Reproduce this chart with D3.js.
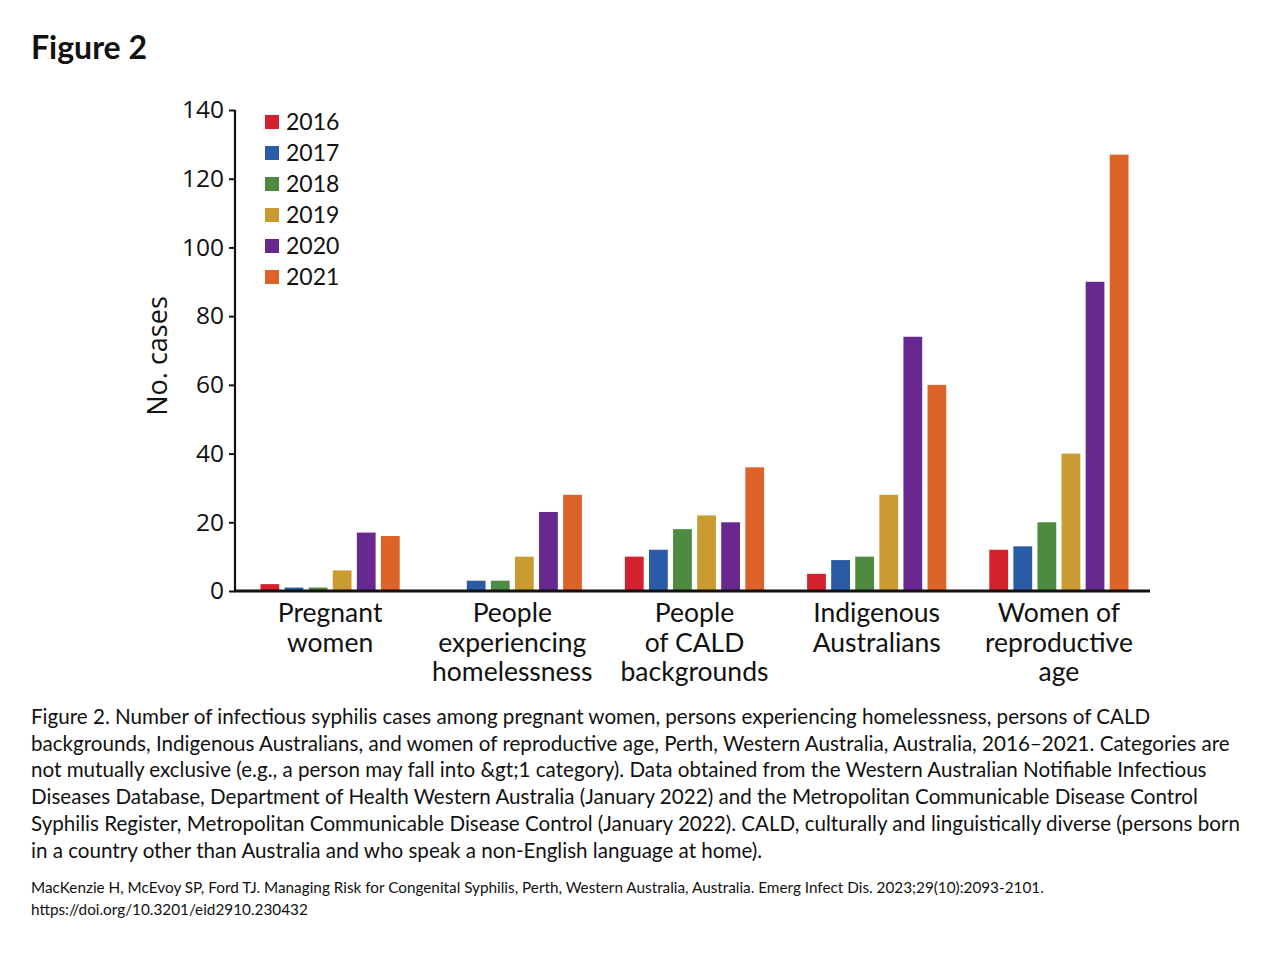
<!DOCTYPE html>
<html><head><meta charset="utf-8">
<script src="https://cdn.jsdelivr.net/npm/d3@7"></script>
<style>body{margin:0;background:#fff}svg{display:block}</style>
</head><body>
<script>
const categories = [
  ["Pregnant","women"],
  ["People","experiencing","homelessness"],
  ["People","of CALD","backgrounds"],
  ["Indigenous","Australians"],
  ["Women of","reproductive","age"]
];
const years = ["2016","2017","2018","2019","2020","2021"];
const colors = ["#d3212d","#2b5aa6","#4e8a3f","#c99b30","#67298f","#de6329"];
const v2016 = [2, 0, 10, 5, 12];
const v2017 = [1, 3, 12, 9, 13];
const v2018 = [1, 3, 18, 10, 20];
const v2019 = [6, 10, 22, 28, 40];
const v2020 = [17, 23, 20, 74, 90];
const v2021 = [16, 28, 36, 60, 127];
const series = [v2016, v2017, v2018, v2019, v2020, v2021];
const yTicks = [0,20,40,60,80,100,120,140];
const captionLines = [
  "Figure 2. Number of infectious syphilis cases among pregnant women, persons experiencing homelessness, persons of CALD",
  "backgrounds, Indigenous Australians, and women of reproductive age, Perth, Western Australia, Australia, 2016\u20132021. Categories are",
  "not mutually exclusive (e.g., a person may fall into &gt;1 category). Data obtained from the Western Australian Notifiable Infectious",
  "Diseases Database, Department of Health Western Australia (January 2022) and the Metropolitan Communicable Disease Control",
  "Syphilis Register, Metropolitan Communicable Disease Control (January 2022). CALD, culturally and linguistically diverse (persons born",
  "in a country other than Australia and who speak a non-English language at home)."
];
const citeLines = [
  "MacKenzie H, McEvoy SP, Ford TJ. Managing Risk for Congenital Syphilis, Perth, Western Australia, Australia. Emerg Infect Dis. 2023;29(10):2093-2101.",
  "https://doi.org/10.3201/eid2910.230432"
];

const svg = d3.select("body").append("svg").attr("width",1280).attr("height",960);
const font = "Lato, 'Open Sans', sans-serif";
const axFont = "'Open Sans', Lato, sans-serif";

svg.append("text").attr("x",31).attr("y",59).attr("font-family",font).attr("font-weight","bold")
  .attr("font-size",32).attr("fill","#111").text("Figure 2");

const axX = 235, axTop = 110, axBottom = 591, axRight = 1150;
const y = d3.scaleLinear().domain([0,140]).range([axBottom, axTop]);
const x0 = d3.scaleBand().domain(d3.range(categories.length)).range([239, 1150]).paddingInner(0).paddingOuter(0);
const x1 = d3.scaleBand().domain(years).range([-69.6, 69.6]).paddingInner(0.22).paddingOuter(0);

const g = svg.append("g");
series.forEach((vals, si) => {
  g.selectAll(null).data(vals).enter().append("rect")
    .attr("x",(d,i)=> x0(i) + x0.bandwidth()/2 + x1(years[si]))
    .attr("width", x1.bandwidth())
    .attr("y", d=> y(d))
    .attr("height", d=> y(0)-y(d))
    .attr("fill", colors[si]);
});

// y axis
const yAxis = d3.axisLeft(y).tickValues(yTicks).tickSize(6).tickPadding(5);
const ya = svg.append("g").attr("transform",`translate(${axX},0)`).call(yAxis);
ya.select(".domain").attr("stroke","#111").attr("stroke-width",2.2).attr("d",`M0,${axTop}V${axBottom}`);
ya.selectAll(".tick line").attr("stroke","#111").attr("stroke-width",2);
ya.selectAll(".tick text").attr("font-family",axFont).attr("font-size",24.5).attr("fill","#111");

// x axis line
svg.append("line").attr("x1",axX-1).attr("x2",axRight).attr("y1",axBottom).attr("y2",axBottom)
  .attr("stroke","#111").attr("stroke-width",3);

// category labels
categories.forEach((lines,i)=>{
  const cx = x0(i)+x0.bandwidth()/2;
  const t = svg.append("text").attr("font-family",font).attr("font-size",26.5).attr("fill","#111")
    .attr("text-anchor","middle");
  lines.forEach((l,k)=> t.append("tspan").attr("x",cx).attr("y",622 + k*29.5).text(l));
});

// y title
svg.append("text").attr("transform","translate(167,356) rotate(-90)").attr("text-anchor","middle")
  .attr("font-family",axFont).attr("font-size",27).attr("fill","#111").text("No. cases");

// legend
years.forEach((yr,i)=>{
  const ly = 122 + i*31;
  svg.append("rect").attr("x",265).attr("y",ly-7).attr("width",14).attr("height",14).attr("fill",colors[i]);
  svg.append("text").attr("x",286).attr("y",ly+8).attr("font-family",font).attr("font-size",23)
    .attr("fill","#111").text(yr);
});

// caption
captionLines.forEach((l,i)=>{
  svg.append("text").attr("x",31).attr("y",724 + i*26.7).attr("font-family",font).attr("font-size",20.6)
    .attr("fill","#111").text(l);
});
citeLines.forEach((l,i)=>{
  svg.append("text").attr("x",31).attr("y",893 + i*21.5).attr("font-family",font).attr("font-size",15.3)
    .attr("fill","#111").text(l);
});
</script>
</body></html>
